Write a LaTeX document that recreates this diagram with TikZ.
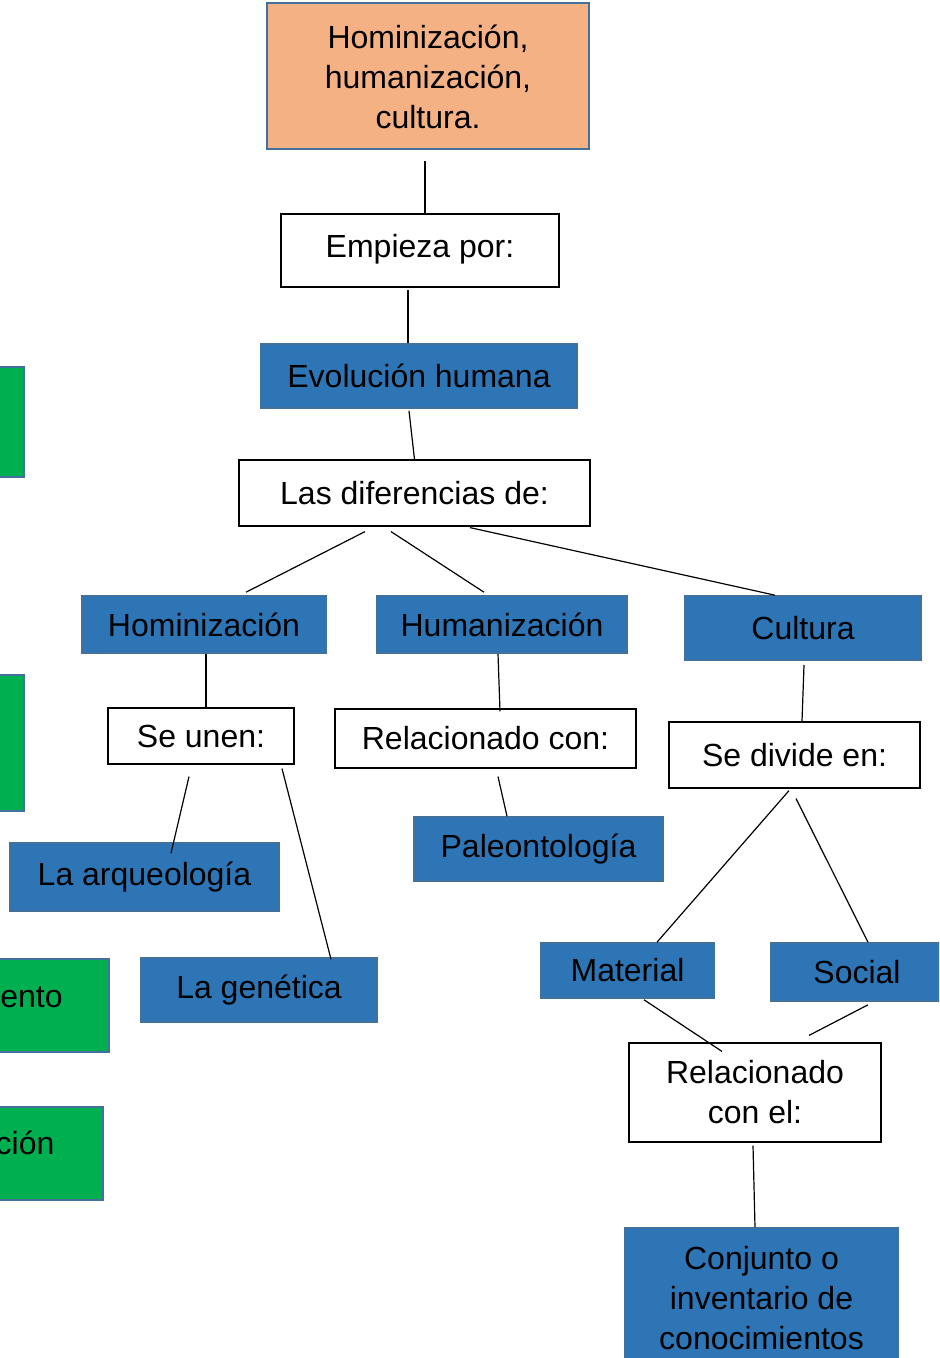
\documentclass[tikz,border=0pt]{standalone}
\usepackage{fontspec}
\setmainfont{Liberation Sans}
\usetikzlibrary{calc}
\definecolor{titlefill}{HTML}{F4B183}
\definecolor{boxblue}{HTML}{2E75B6}
\definecolor{edgeblue}{HTML}{41719C}
\definecolor{boxgreen}{HTML}{00B050}
\tikzset{
	titlebox/.style={draw=edgeblue, line width=1pt, fill=titlefill, align=center, inner sep=0pt},
	whitebox/.style={draw=black, line width=0.6pt, fill=white, align=center, inner sep=0pt},
	bluebox/.style={draw=edgeblue, line width=0.8pt, fill=boxblue, align=center, inner sep=0pt},
	greenbox/.style={draw=edgeblue, line width=1pt, fill=boxgreen, align=center, inner sep=0pt},
	link/.style={draw=black, line width=0.6pt}
}

\begin{document}
\begin{tikzpicture}[x=0.5pt, y=-0.5pt, font=\fontsize{16}{20}\selectfont]
			%%%%% START %%%%%
			\useasboundingbox (0, 0) rectangle (939, 1358);
			\clip (0, 0) rectangle (939, 1358);
			
			% left column (cut off)
			\node[greenbox, minimum width=64pt, minimum height=55pt] (gruno) at (-40, 422) {};
			\node[greenbox, minimum width=64pt, minimum height=68pt] (grdos) at (-40, 743) {};
			\node[greenbox, minimum width=77.5pt, minimum height=46.5pt, text height=11.5pt, text depth=10pt] (grtres) at (31.5, 1005.5) {ento};
			\node[greenbox, minimum width=78pt, minimum height=46.5pt, text height=11.5pt, text depth=11pt] (grcuatro) at (25, 1153.5) {ción};
			
			% main tree
			\node[titlebox, minimum width=161pt, minimum height=73pt] (titulo) at (428, 76.5) {Hominización,\\humanización,\\cultura.};
			\node[whitebox, minimum width=139pt, minimum height=36.5pt, text height=11.5pt, text depth=4pt] (empieza) at (420, 250.5) {Empieza por:};
			\node[bluebox, minimum width=158pt, minimum height=32pt] (evolucion) at (419, 376) {Evolución humana};
			\node[whitebox, minimum width=175.5pt, minimum height=33pt] (diferencias) at (414.5, 493) {Las diferencias de:};
			
			\node[bluebox, minimum width=122pt, minimum height=28.5pt] (hominizacion) at (204, 624.5) {Hominización};
			\node[bluebox, minimum width=125pt, minimum height=28.5pt] (humanizacion) at (502, 624.5) {Humanización};
			\node[bluebox, minimum width=118pt, minimum height=32pt] (cultura) at (803, 628) {Cultura};
			
			\node[whitebox, minimum width=93pt, minimum height=28pt] (seunen) at (201, 736) {Se unen:};
			\node[bluebox, minimum width=134.5pt, minimum height=34pt] (arqueologia) at (144.5, 877) {La arqueología};
			\node[bluebox, minimum width=118pt, minimum height=32pt] (genetica) at (259, 990) {La genética};
			
			\node[whitebox, minimum width=150.5pt, minimum height=29.5pt] (relcon) at (485.5, 738.5) {Relacionado con:};
			\node[bluebox, minimum width=124.5pt, minimum height=32pt] (paleo) at (538.5, 849) {Paleontología};
			
			\node[whitebox, minimum width=125.5pt, minimum height=33pt] (sedivide) at (794.5, 755) {Se divide en:};
			\node[bluebox, minimum width=86.5pt, minimum height=27.5pt] (material) at (627.5, 970.5) {Material};
			\node[bluebox, minimum width=86pt, minimum height=29pt] (social) at (857, 972) {Social};
			\node[whitebox, minimum width=126pt, minimum height=49.5pt] (relel) at (755, 1092.5) {Relacionado\\con el:};
			\node[bluebox, minimum width=136.5pt, minimum height=70pt] (conjunto) at (761.5, 1298) {Conjunto o\\inventario de\\conocimientos};
			
			% links
			\draw[link] ([shift={(-3,10.5)}]titulo.south) -- ([shift={(5,0)}]empieza.north);
			\draw[link] ([shift={(-12,2)}]empieza.south) -- ([shift={(-11,0)}]evolucion.north);
			\draw[link] ([shift={(-10,2)}]evolucion.south) -- (diferencias.north);
			\draw[link] ([shift={(-49.5,5)}]diferencias.south) -- ([shift={(42,-3)}]hominizacion.north);
			\draw[link] ([shift={(-23.5,5)}]diferencias.south) -- ([shift={(-18,-3)}]humanizacion.north);
			\draw[link] ([shift={(55.5,1)}]diferencias.south) -- ([shift={(-28,0)}]cultura.north);
			
			\draw[link] ([shift={(2,0)}]hominizacion.south) -- ([shift={(5,0)}]seunen.north);
			\draw[link] ([shift={(-12,12)}]seunen.south) -- ([shift={(26.5,11)}]arqueologia.north);
			\draw[link] ([shift={(81,4)}]seunen.south) -- ([shift={(72,2)}]genetica.north);
			
			\draw[link] ([shift={(-4,0)}]humanizacion.south) -- ([shift={(14.5,3)}]relcon.north);
			\draw[link] ([shift={(12.5,8)}]relcon.south) -- ([shift={(-31.5,0)}]paleo.north);
			
			\draw[link] ([shift={(1,4)}]cultura.south) -- ([shift={(7.5,0)}]sedivide.north);
			\draw[link] ([shift={(-5.5,2)}]sedivide.south) -- ([shift={(29.5,0)}]material.north);
			\draw[link] ([shift={(1.5,10)}]sedivide.south) -- ([shift={(11,0)}]social.north);
			\draw[link] ([shift={(16.5,1)}]material.south) -- ([shift={(-33,9)}]relel.north);
			\draw[link] ([shift={(11,3)}]social.south) -- ([shift={(54,-7)}]relel.north);
			\draw[link] ([shift={(-2,3)}]relel.south) -- ([shift={(-6.5,0)}]conjunto.north);
			%%%%% END %%%%%
\end{tikzpicture}
\end{document}
